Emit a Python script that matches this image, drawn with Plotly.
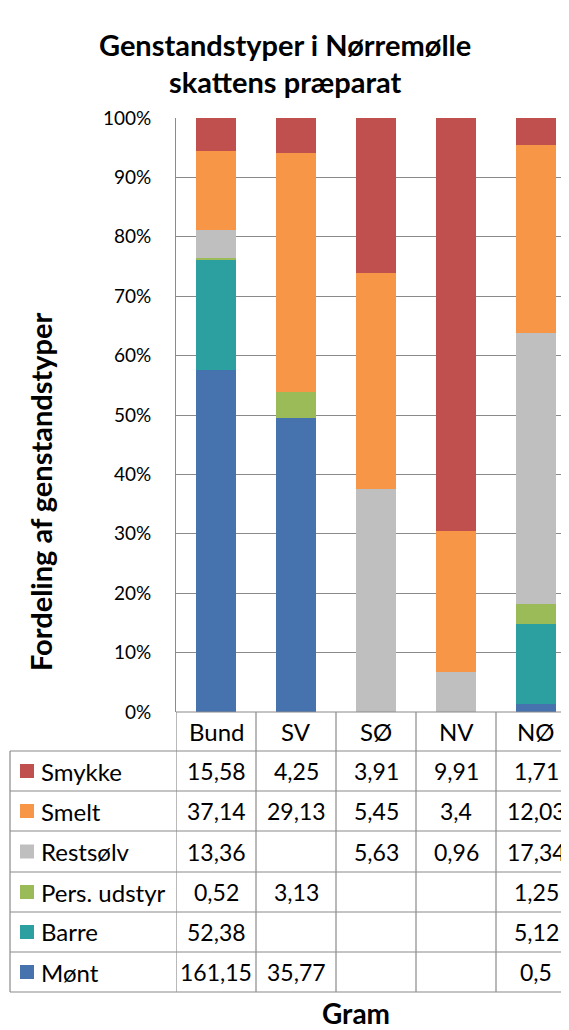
import plotly.graph_objects as go

categories = ["Bund", "SV", "SØ", "NV", "NØ"]
# series listed top (table order) to bottom
series_names = ["Smykke", "Smelt", "Restsølv", "Pers. udstyr", "Barre", "Mønt"]
smykke = [15.58, 4.25, 3.91, 9.91, 1.71]
smelt = [37.14, 29.13, 5.45, 3.4, 12.03]
restsolv = [13.36, None, 5.63, 0.96, 17.34]
pers_udstyr = [0.52, 3.13, None, None, 1.25]
barre = [52.38, None, None, None, 5.12]
mont = [161.15, 35.77, None, None, 0.5]
y_ticks = [0, 10, 20, 30, 40, 50, 60, 70, 80, 90, 100]

series_values = [smykke, smelt, restsolv, pers_udstyr, barre, mont]
colors = ["#C0504D", "#F79646", "#BFBFBF", "#9BBB59", "#2C9FA0", "#4673AE"]

FONT = "Lato"
GRID = "#8A8A8A"

# page body has an 8px margin: work in window pixels, shift into figure pixels
OFF = 8
WIN_W, WIN_H = 569, 1030
W, H = WIN_W - OFF, WIN_H - OFF
PL, PR, PT, PB = 176, 569, 118, 712   # window pixels
CAT_W = 80.0

def py(p):
    return (PB - p) / (PB - PT)

def pxp(p):
    return (p - PL) / (PR - PL)

fig = go.Figure()
for name, vals, col in reversed(list(zip(series_names, series_values, colors))):
    fig.add_trace(go.Bar(x=categories, y=vals, name=name, marker=dict(color=col, line=dict(width=0)),
                         showlegend=False))

x_max = -0.5 + (PR - PL) / CAT_W

fig.update_layout(
    width=W, height=H,
    margin=dict(l=PL - OFF, r=OFF + W - PR, t=PT - OFF, b=OFF + H - PB, pad=0),
    paper_bgcolor="white", plot_bgcolor="white",
    barmode="stack", barnorm="percent", bargap=0.5,
    font=dict(family=FONT, color="#000000"),
    xaxis=dict(range=[-0.5, x_max], showticklabels=False, showgrid=False, zeroline=False,
               showline=False, ticks=""),
    yaxis=dict(range=[0, 100], tickvals=y_ticks, ticktext=[f"{v}%" for v in y_ticks],
               showgrid=True, gridcolor=GRID, gridwidth=1, zeroline=False,
               showline=True, linecolor=GRID, linewidth=1, ticks="",
               ticklabelstandoff=20, tickfont=dict(size=19, family=FONT, color="#000")),
)

shapes = []
ann = []
line = dict(color=GRID, width=1.2)
row_lines = [751, 791, 831, 872, 912, 952, 992]
TL = 10
TFS = 24
VFS = 23
shapes.append(dict(type="line", xref="paper", yref="paper", x0=0, x1=1.05, y0=py(PB), y1=py(PB), line=line))
for r in row_lines:
    shapes.append(dict(type="line", xref="paper", yref="paper", x0=pxp(TL), x1=1.05, y0=py(r), y1=py(r), line=line))
shapes.append(dict(type="line", xref="paper", yref="paper", x0=pxp(TL), x1=pxp(TL), y0=py(row_lines[0]), y1=py(row_lines[-1]), line=line))
for i in range(len(categories) + 1):
    xv = i - 0.5
    shapes.append(dict(type="line", xref="x", yref="paper", x0=xv, x1=xv, y0=py(PB), y1=py(row_lines[-1]), line=line))

hc = (PB + row_lines[0]) / 2
for c in categories:
    ann.append(dict(x=c, xref="x", y=py(hc), yref="paper", text=c, showarrow=False,
                    font=dict(size=TFS, family=FONT), xanchor="center", yanchor="middle"))

def fmt(v):
    if v is None:
        return ""
    s = f"{v:.2f}".rstrip("0").rstrip(".")
    return s.replace(".", ",")

for k, (name, vals, col) in enumerate(zip(series_names, series_values, colors)):
    top, bot = row_lines[k], row_lines[k + 1]
    cy = (top + bot) / 2
    shapes.append(dict(type="rect", xref="paper", yref="paper", x0=pxp(20), x1=pxp(34),
                       y0=py(cy + 7), y1=py(cy - 7), fillcolor=col, line=dict(width=0)))
    ann.append(dict(x=pxp(39), xref="paper", y=py(cy), yref="paper", text=name, showarrow=False,
                    font=dict(size=TFS, family=FONT), xanchor="left", yanchor="middle"))
    for c, v in zip(categories, vals):
        t = fmt(v)
        if t:
            ann.append(dict(x=c, xref="x", y=py(cy), yref="paper", text=t, showarrow=False,
                            font=dict(size=VFS, family=FONT), xanchor="center", yanchor="middle"))

ann.append(dict(x=pxp(285), xref="paper", y=py(44), yref="paper", text="<b>Genstandstyper i Nørremølle</b>",
                showarrow=False, font=dict(size=29, family=FONT), xanchor="center", yanchor="middle"))
ann.append(dict(x=pxp(285), xref="paper", y=py(81), yref="paper", text="<b>skattens præparat</b>",
                showarrow=False, font=dict(size=29, family=FONT), xanchor="center", yanchor="middle"))
ann.append(dict(x=pxp(40), xref="paper", y=py(492), yref="paper", text="<b>Fordeling af genstandstyper</b>",
                showarrow=False, textangle=-90, font=dict(size=29, family=FONT), xanchor="center", yanchor="middle"))
ann.append(dict(x=pxp(356), xref="paper", y=py(1013), yref="paper", text="<b>Gram</b>",
                showarrow=False, font=dict(size=28, family=FONT), xanchor="center", yanchor="middle"))

fig.update_layout(shapes=shapes, annotations=ann)
fig.write_html("out.html")
